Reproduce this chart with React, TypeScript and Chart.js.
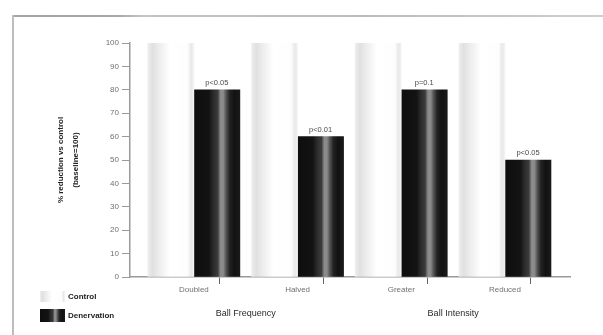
import React, { useEffect, useRef } from "react";
import { Chart, registerables } from "chart.js";

Chart.register(...registerables);

// ---- data ----
const categories = ["Doubled", "Halved", "Greater", "Reduced"];
const groupTitles = ["Ball Frequency", "Ball Intensity"];
const seriesNames = ["Control", "Denervation"];
const controlValues = [100, 100, 100, 100];
const denervationValues = [80, 60, 80, 50];
const pValueLabels = ["p<0.05", "p<0.01", "p=0.1", "p<0.05"];
const yTitleLines = ["% reduction vs control", "(baseline=100)"];

// ---- styles ----
const FONT = '"Liberation Sans", Arial, sans-serif';
const CONTROL_STOPS: [number, string][] = [
  [0, "#eeeeee"],
  [0.1, "#e0e0e0"],
  [0.22, "#ebebeb"],
  [0.36, "#f6f6f6"],
  [0.48, "#ffffff"],
  [0.86, "#fdfdfd"],
  [0.94, "#e8e8e8"],
  [1, "#f4f4f4"],
];
const DENERV_STOPS: [number, string][] = [
  [0, "#0e0e0e"],
  [0.33, "#131313"],
  [0.42, "#2a2a2a"],
  [0.52, "#3c3c3c"],
  [0.58, "#8c8c8c"],
  [0.64, "#8a8a8a"],
  [0.7, "#555555"],
  [0.78, "#222222"],
  [0.88, "#121212"],
  [1, "#1a1a1a"],
];
const STOPS = [CONTROL_STOPS, DENERV_STOPS];

function makeGradient(ctx: CanvasRenderingContext2D, x0: number, x1: number, stops: [number, string][]) {
  const g = ctx.createLinearGradient(x0, 0, x1, 0);
  stops.forEach(([o, c]) => g.addColorStop(o, c));
  return g;
}

const gradientPlugin = {
  id: "barGradients",
  beforeDatasetsDraw(chart: any) {
    const ctx = chart.ctx;
    chart.data.datasets.forEach((_: any, di: number) => {
      const meta = chart.getDatasetMeta(di);
      meta.data.forEach((el: any) => {
        const g = makeGradient(ctx, el.x - el.width / 2, el.x + el.width / 2, STOPS[di]);
        el.options = { ...el.options, backgroundColor: g };
      });
    });
  },
};

const decorPlugin = {
  id: "decor",
  afterDatasetsDraw(chart: any) {
    const ctx = chart.ctx;
    const meta = chart.getDatasetMeta(1);
    ctx.save();
    ctx.font = `7.5px ${FONT}`;
    ctx.fillStyle = "#4a4a4a";
    ctx.textAlign = "center";
    ctx.textBaseline = "bottom";
    meta.data.forEach((el: any, i: number) => {
      ctx.fillText(pValueLabels[i], el.x, el.y - 3);
    });
    ctx.restore();
  },
  afterDraw(chart: any) {
    const ctx = chart.ctx;
    const x = chart.scales.x;
    ctx.save();
    // group titles
    ctx.font = `9px ${FONT}`;
    ctx.fillStyle = "#2a2a2a";
    ctx.textAlign = "center";
    ctx.textBaseline = "middle";
    groupTitles.forEach((t, g) => {
      const cx = (x.getPixelForValue(2 * g) + x.getPixelForValue(2 * g + 1)) / 2;
      ctx.fillText(t, cx, 314);
    });
    // legend
    const items = [
      { y: 291, h: 11 },
      { y: 309, h: 13 },
    ];
    ctx.textAlign = "left";
    ctx.font = `bold 8px ${FONT}`;
    seriesNames.forEach((name, i) => {
      const it = items[i];
      ctx.fillStyle = makeGradient(ctx, 40, 65, STOPS[i]);
      ctx.fillRect(40, it.y, 25, it.h);
      ctx.fillStyle = "#222";
      ctx.fillText(name, 68, it.y + it.h / 2);
    });
    ctx.restore();
  },
};

export default function App() {
  const ref = useRef<HTMLCanvasElement>(null);

  useEffect(() => {
    if (!ref.current) return;
    Chart.defaults.font.family = FONT;
    const halfTicks: number[] = [];
    for (let i = -0.5; i <= categories.length - 0.5; i += 0.5) halfTicks.push(i);

    const chart = new Chart(ref.current, {
      type: "bar",
      data: {
        datasets: [
          {
            label: seriesNames[0],
            data: categories.map((_, i) => ({ x: i, y: controlValues[i] })),
            backgroundColor: "#f4f4f4",
            borderWidth: 0,
            barThickness: 46,
          },
          {
            label: seriesNames[1],
            data: categories.map((_, i) => ({ x: i, y: denervationValues[i] })),
            backgroundColor: "#111111",
            borderWidth: 0,
            barThickness: 46,
          },
        ],
      },
      options: {
        animation: false,
        responsive: false,
        devicePixelRatio: 1,
        layout: { padding: { top: 43, right: 33, bottom: 0, left: 0 } },
        plugins: {
          legend: { display: false },
          tooltip: { enabled: false },
        },
        scales: {
          x: {
            type: "linear",
            offset: false,
            min: -0.616,
            max: 3.627,
            afterBuildTicks: (scale: any) => {
              scale.ticks = halfTicks.map((v) => ({ value: v }));
            },
            afterFit: (scale: any) => {
              scale.height = 58;
            },
            ticks: {
              autoSkip: false,
              maxRotation: 0,
              padding: 1,
              color: "#707070",
              font: { size: 8 },
              callback: (v: any) => (Number.isInteger(v) ? categories[v] : ""),
            },
            grid: {
              drawOnChartArea: false,
              drawTicks: true,
              tickLength: 7,
              tickColor: (c: any) =>
                c.tick && Number.isInteger(c.tick.value) ? "rgba(0,0,0,0)" : "#666",
            },
            border: { color: "#9a9a9a", width: 1.5 },
          },
          y: {
            min: 0,
            max: 100,
            afterFit: (scale: any) => {
              scale.width = 130;
            },
            ticks: {
              stepSize: 10,
              padding: 3,
              color: "#707070",
              font: { size: 8 },
            },
            grid: {
              drawOnChartArea: false,
              drawTicks: true,
              tickLength: 8,
              tickColor: "#9a9a9a",
            },
            border: { color: "#9a9a9a", width: 1.5 },
            title: {
              display: true,
              text: yTitleLines,
              color: "#222",
              font: { size: 8, weight: "bold", lineHeight: 1.9 },
              padding: { top: 53, bottom: 0 },
            },
          },
        },
      },
      plugins: [gradientPlugin, decorPlugin],
    } as any);

    return () => chart.destroy();
  }, []);

  return (
    <div style={{ position: "absolute", left: 0, top: 0, width: 603, height: 335, background: "#fff" }}>
      <div
        style={{
          position: "absolute",
          left: 12,
          top: 15,
          width: 591,
          height: 2,
          background: "linear-gradient(to right, #a4a4a4 0%, #a8a8a8 18%, #c4c4c4 22%, #bcbcbc 60%, #cfcfcf 100%)",
        }}
      />
      <div style={{ position: "absolute", left: 12, top: 15, width: 2, height: 320, background: "#bdbdbd" }} />
      <canvas ref={ref} width={603} height={335} style={{ position: "absolute", left: 0, top: 0, display: "block" }} />
    </div>
  );
}
